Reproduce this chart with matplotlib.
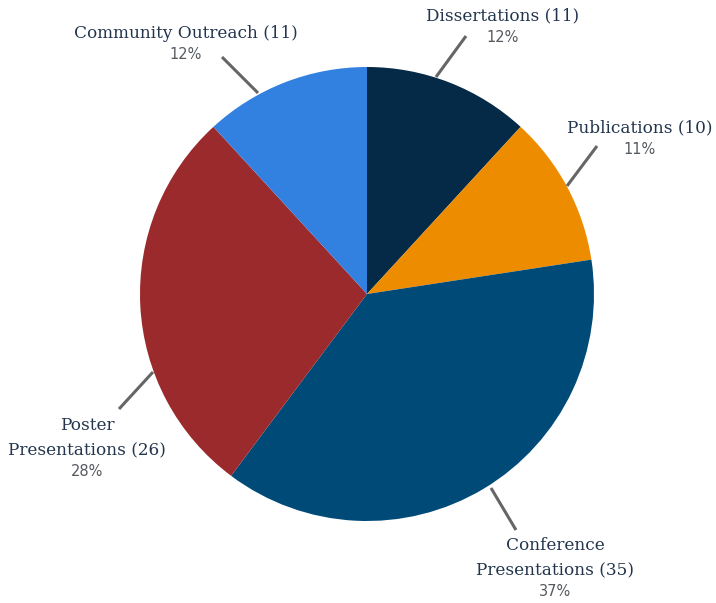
import numpy as np
import matplotlib
matplotlib.use("Agg")
import matplotlib.pyplot as plt

categories = ["Dissertations", "Publications", "Conference\nPresentations",
              "Poster\nPresentations", "Community Outreach"]
counts = [11, 10, 35, 26, 11]
pct_labels = ["12%", "11%", "37%", "28%", "12%"]
colors = ["#042a48", "#ee8c00", "#004a78", "#9b2a2d", "#3280e0"]

W, H = 716, 603
fig = plt.figure(figsize=(W / 100, H / 100), dpi=100)
ax = fig.add_axes([0, 0, 1, 1])

cx, cy, R = 367, H - 294, 227
wedges, _ = ax.pie(counts, colors=colors, startangle=90, counterclock=False,
                   center=(cx, cy), radius=R, frame=True,
                   wedgeprops=dict(linewidth=0))

ax.set_xlim(0, W)
ax.set_ylim(0, H)
ax.set_aspect("equal")
ax.axis("off")

name_font = dict(family="DejaVu Serif", size=12.2, color="#22354d")
pct_font = dict(family="DejaVu Sans", size=10.5, color="#555a60")

# layout (pixels from top-left): leader line start/end, label top-line centre
leader_lines = [((436, 77), (466, 36)), ((567, 186), (597, 146)),
                ((491, 488), (516, 530)), ((153, 372), (119, 409)),
                ((258, 93), (222, 57))]
label_pos = [(503, 16), (640, 128), (555, 545), (87, 425), (186, 33)]

for name, cnt, pct, (p0, p1), (lx, ly) in zip(categories, counts, pct_labels,
                                            leader_lines, label_pos):
    ax.plot([p0[0], p1[0]], [H - p0[1], H - p1[1]],
            color="#666666", lw=2.2, solid_capstyle="butt")
    lines = f"{name} ({cnt})".split("\n")
    for i, ln in enumerate(lines):
        ax.text(lx, H - (ly + i * 25.5), ln, ha="center", va="center", **name_font)
    ax.text(lx, H - (ly + (len(lines) - 1) * 25.5 + 21.5), pct,
            ha="center", va="center", **pct_font)

fig.savefig("out.png", dpi=100, facecolor="white")
